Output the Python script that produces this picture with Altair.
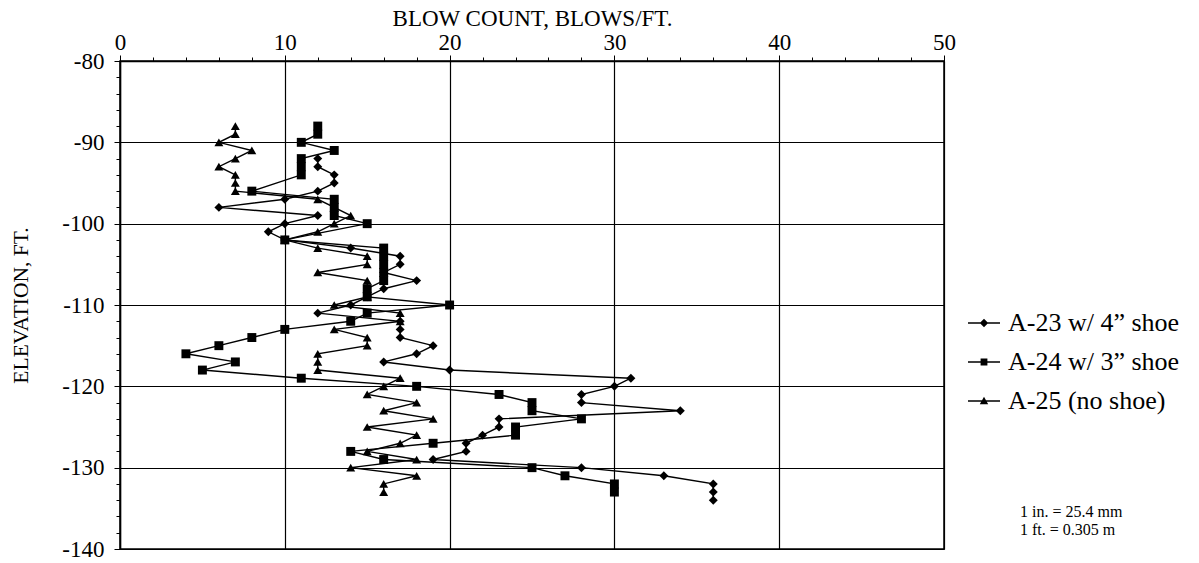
import altair as alt
import pandas as pd

# ---- data ----
a23_elev = [-92, -93, -94, -95, -96, -97, -98, -99, -100, -101, -102, -103, -104, -105, -106, -107,
            -108, -109, -110, -111, -112, -113, -114, -115, -116, -117, -118, -119, -120, -121, -122,
            -123, -124, -125, -126, -127, -128, -129, -130, -131, -132, -133, -134]
a23_blows = [12, 12, 13, 13, 12, 10, 6, 12, 10, 9, 10, 14, 17, 17, 16, 18,
             16, 15, 14, 12, 17, 17, 17, 19, 18, 16, 20, 31, 30, 28, 28,
             34, 23, 23, 22, 21, 21, 19, 28, 33, 36, 36, 36]

a24_elev = [-88, -89, -90, -91, -92, -93, -94, -96, -97, -98, -99, -100, -102, -103, -104, -105,
            -106, -107, -108, -109, -110, -111, -112, -113, -114, -115, -116, -117, -118, -119,
            -120, -121, -122, -123, -124, -125, -126, -127, -128, -129, -130, -131, -132, -133]
a24_blows = [12, 12, 11, 13, 11, 11, 11, 8, 13, 13, 13, 15, 10, 16, 16, 16,
             16, 16, 15, 15, 20, 15, 14, 10, 8, 6, 4, 7, 5, 11,
             18, 23, 25, 25, 28, 24, 24, 19, 14, 16, 25, 27, 30, 30]

a25_elev = [-88, -89, -90, -91, -92, -93, -94, -95, -96, -97, -98, -99, -100, -101, -102, -103,
            -104, -105, -106, -107, -108, -109, -110, -111, -112, -113, -114, -115, -116, -117,
            -118, -119, -120, -121, -122, -123, -124, -125, -126, -127, -128, -129, -130, -131,
            -132, -133]
a25_blows = [7, 7, 6, 8, 7, 6, 7, 7, 7, 12, 13, 14, 13, 12, 10, 12,
             15, 15, 12, 15, 15, 15, 13, 17, 17, 13, 15, 15, 12, 12,
             12, 17, 16, 15, 18, 16, 19, 15, 18, 17, 15, 18, 14, 18,
             16, 16]

series_names = ["A-23 w/ 4\u201d shoe", "A-24 w/ 3\u201d shoe", "A-25 (no shoe)"]
x_ticks = list(range(0, 51, 2))
y_ticks = list(range(-140, -79, 2))
notes = ["1 in. = 25.4 mm", "1 ft. = 0.305 m"]

rows = []
for name, el, bl in zip(series_names, [a23_elev, a24_elev, a25_elev], [a23_blows, a24_blows, a25_blows]):
    for e, b in zip(el, bl):
        rows.append({"series": name, "elev": e, "blows": b})
df = pd.DataFrame(rows)

FONT = "Liberation Serif"
major = "datum.value % 10 === 0"
lab = f"{major} ? toString(datum.value) : ''"

x_enc = alt.X(
    "blows:Q",
    scale=alt.Scale(domain=[0, 50], nice=False, zero=False),
    axis=alt.Axis(
        orient="top", values=x_ticks, tickCount=100, title="BLOW COUNT, BLOWS/FT.",
        labelExpr=lab, labelOverlap=False, labelFlush=False,
        grid=True, gridColor="#000", gridWidth=1.2,
        gridOpacity={"condition": {"test": major, "value": 1}, "value": 0},
        tickSize={"condition": {"test": major, "value": 6}, "value": 4},
        tickColor="#000", domainColor="#000", domainWidth=1.5,
        labelFont=FONT, labelFontSize=23, labelColor="#000", labelPadding=1,
        titleFont=FONT, titleFontSize=23, titleFontWeight="normal", titleColor="#000",
        titlePadding=1,
    ),
)
y_enc = alt.Y(
    "elev:Q",
    scale=alt.Scale(domain=[-140, -80], nice=False, zero=False),
    axis=alt.Axis(
        values=y_ticks, tickCount=100, title="ELEVATION, FT.",
        labelExpr=lab, labelOverlap=False, labelFlush=False,
        grid=True, gridColor="#000", gridWidth=1.2,
        gridOpacity={"condition": {"test": major, "value": 1}, "value": 0},
        tickSize={"condition": {"test": major, "value": 6}, "value": 4},
        tickColor="#000", domainColor="#000", domainWidth=1.5,
        labelFont=FONT, labelFontSize=23, labelColor="#000", labelPadding=10,
        titleFont=FONT, titleFontSize=21.5, titleFontWeight="normal", titleColor="#000",
        titleX=-88, titleY=244, titleAngle=-90, titleBaseline="bottom", titleAlign="center",
    ),
)

base = alt.Chart(df)

lines = base.mark_line(color="#000", strokeWidth=1.4).encode(
    x=x_enc, y=y_enc, detail="series:N", order=alt.Order("elev:Q", sort="descending")
)

points = base.mark_point(filled=True, color="#000", opacity=1, size=80).encode(
    x="blows:Q", y="elev:Q",
    shape=alt.Shape("series:N", scale=alt.Scale(domain=series_names,
                                                range=["diamond", "square", "triangle-up"]),
                    legend=None),
)

# legend symbols: a thin filled bar (the line) plus the marker
leg_paths = [
    "M-4,-0.16L4,-0.16L4,0.16L-4,0.16ZM0,-1.05L1.05,0L0,1.05L-1.05,0Z",
    "M-4,-0.16L4,-0.16L4,0.16L-4,0.16ZM-0.85,-0.85L0.85,-0.85L0.85,0.85L-0.85,0.85Z",
    "M-4,-0.16L4,-0.16L4,0.16L-4,0.16ZM0,-1.05L1.05,0.8L-1.05,0.8Z",
]
legend_layer = base.mark_point(filled=True, color="#000", opacity=0).encode(
    x="blows:Q", y="elev:Q",
    shape=alt.Shape(
        "series:N",
        scale=alt.Scale(domain=series_names, range=leg_paths),
        legend=alt.Legend(
            title=None, orient="none", legendX=851, legendY=249,
            symbolSize=64, symbolOpacity=1, symbolFillColor="#000", symbolStrokeWidth=0,
            labelFont=FONT, labelFontSize=26, labelColor="#000",
            labelOffset=11, rowPadding=13, labelLimit=400,
        ),
    ),
)

note_df = pd.DataFrame({"t": ["\n".join(notes)]})
note = alt.Chart(note_df).mark_text(
    font=FONT, fontSize=16, align="left", baseline="top", lineBreak="\n", color="#000", lineHeight=18
).encode(text="t:N", x=alt.value(900), y=alt.value(443))

chart = (
    alt.layer(lines, points, legend_layer, note)
    .resolve_scale(shape="independent")
    .properties(
        width=824, height=488,
        autosize=alt.AutoSizeParams(type="none"),
        padding={"left": 120, "top": 61, "right": 255, "bottom": 14},
        background="white",
    )
    .configure_view(stroke="#000", strokeWidth=1.5)
)

chart.save("out.html", embed_options={"renderer": "svg", "actions": False})
